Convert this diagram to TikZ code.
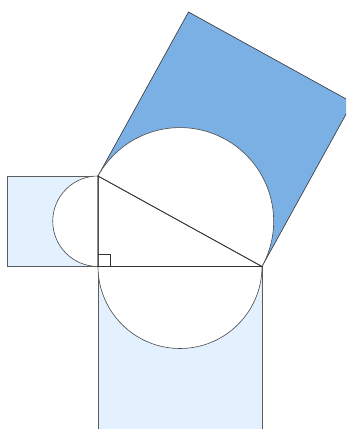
\documentclass[tikz,border=0pt]{standalone}
\usepackage{tikz}
\usetikzlibrary{calc}

\definecolor{paleblue}{HTML}{E3F0FD}
\definecolor{midblue}{HTML}{7BB0E4}
\definecolor{edgegray}{HTML}{333333}

\begin{document}
\begin{tikzpicture}[x=1pt, y=1pt]
    \tikzstyle{sqpale} = [draw=edgegray!80, fill=paleblue, line width=0.6pt]
    \tikzstyle{sqmid} = [draw=edgegray, fill=midblue, line width=0.6pt]
    \tikzstyle{half} = [draw=edgegray!90, fill=white, line width=0.6pt]
    \tikzstyle{side} = [draw=edgegray, line width=0.7pt]

    \useasboundingbox (0,0) rectangle (346,429);
    \clip (0,0) rectangle (346,429);

    \coordinate (A) at (98,253);
    \coordinate (B) at (98,162.5);
    \coordinate (C) at (262,162.5);

    \coordinate (AL) at ($(A)!1!-90:(B)$);
    \coordinate (BL) at ($(B)!1!90:(A)$);
    \coordinate (BD) at ($(B)!1!-90:(C)$);
    \coordinate (CD) at ($(C)!1!90:(B)$);
    \coordinate (AU) at ($(A)!1!90:(C)$);
    \coordinate (CU) at ($(C)!1!-90:(A)$);

    \filldraw [sqpale] (A) -- (AL) -- (BL) -- (B) -- cycle;
    \filldraw [sqpale] (B) -- (BD) -- (CD) -- (C) -- cycle;
    \filldraw [sqmid] (A) -- (AU) -- (CU) -- (C) -- cycle;

    \filldraw [half] (A) arc[start angle=90, delta angle=180, radius=45.25] -- cycle;
    \filldraw [half] (B) arc[start angle=180, delta angle=180, radius=82] -- cycle;
    \filldraw [half] (C) arc[start angle=-28.89, delta angle=180, radius=93.66] -- cycle;

    \draw [side] (A) -- (B) -- (C) -- cycle;
    \draw [draw=edgegray, line width=0.5pt] ($(B)+(0,12)$) -- ++(12,0) -- ++(0,-12);
\end{tikzpicture}
\end{document}
